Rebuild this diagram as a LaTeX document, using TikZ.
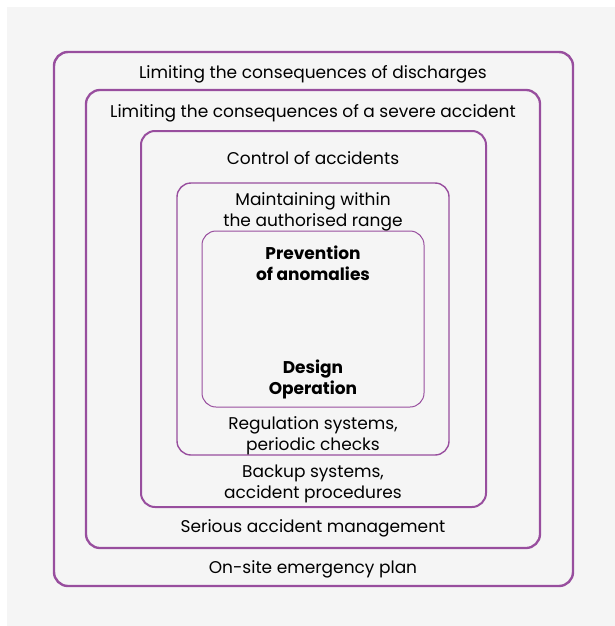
\documentclass[tikz,border=0pt]{standalone}
\usepackage{fontspec}
\setmainfont{Poppins}
\definecolor{lp}{RGB}{152,78,158}
\definecolor{bg}{RGB}{245,245,245}
\begin{document}
\begin{tikzpicture}[x=1pt,y=-1pt,
  lay/.style={draw=lp,rounded corners=14pt},
  lbl/.style={font=\fontsize{17}{21}\selectfont,align=center,text=black,inner sep=0pt},
  blbl/.style={font=\fontsize{17}{21}\selectfont\bfseries,align=center,text=black,inner sep=0pt}]
\useasboundingbox (0,0) rectangle (615,626);
\fill[white] (0,0) rectangle (615,626);
\fill[bg] (7,7) rectangle (615,626);
\draw[lay,line width=2.4pt] (54,52) rectangle (573,586) coordinate (b1);
\draw[lay,line width=2.3pt] (86,90) rectangle (540,548) coordinate (b2);
\draw[lay,line width=2pt] (141,131) rectangle (486,507) coordinate (b3);
\draw[lay,line width=1.4pt] (177,183) rectangle (449,455) coordinate (b4);
\draw[lay,line width=1pt] (202,231) rectangle (424,407) coordinate (b5);
\node[lbl] (t1) at (313,74.5) {Limiting the consequences of discharges};
\node[lbl] (t2) at (313,113.5) {Limiting the consequences of a severe accident};
\node[lbl] (t3) at (313,158.5) {Control of accidents};
\node[lbl] (t4) at (313,211.5) {Maintaining within\\the authorised range};
\node[blbl] (t5) at (313,263.5) {Prevention\\of anomalies};
\node[blbl] (t6) at (313,379) {Design\\Operation};
\node[lbl] (t7) at (313,435.5) {Regulation systems,\\periodic checks};
\node[lbl] (t8) at (313,484) {Backup systems,\\accident procedures};
\node[lbl] (t9) at (313,528.5) {Serious accident management};
\node[lbl] (t10) at (313,569.5) {On-site emergency plan};
\end{tikzpicture}
\end{document}
